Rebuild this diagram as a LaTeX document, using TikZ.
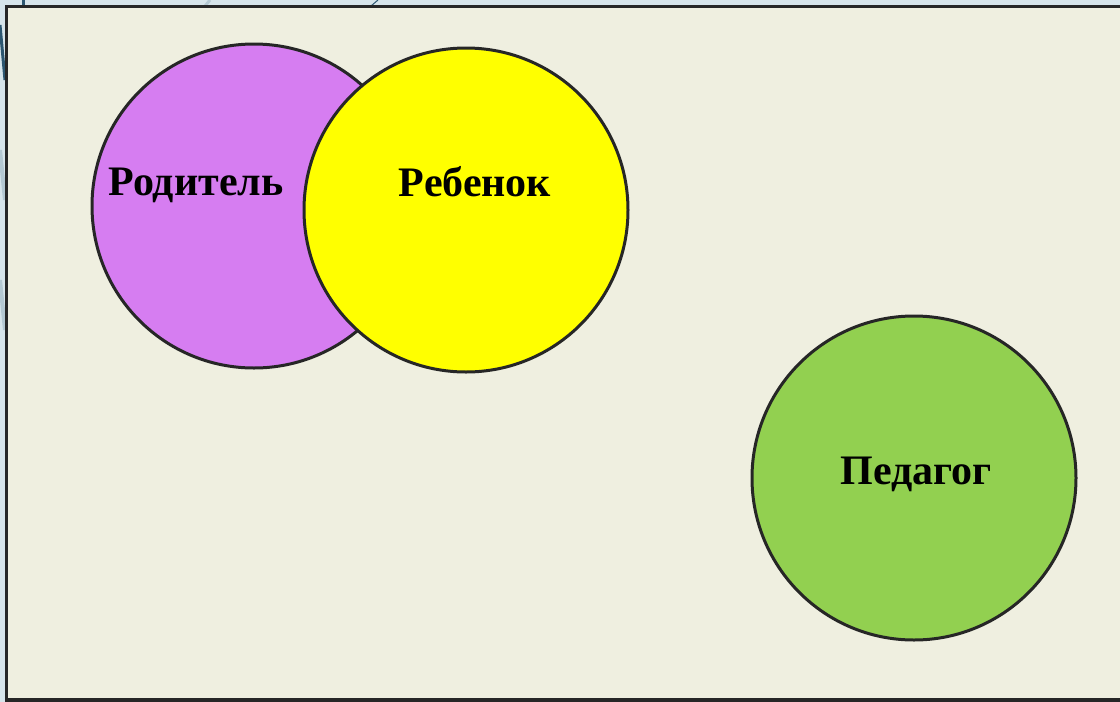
\documentclass[tikz,border=0pt]{standalone}
\usepackage{fontspec}
\setmainfont{Liberation Serif}
\begin{document}
\begin{tikzpicture}[x=1pt,y=-1pt,
  circ/.style={circle,draw=black!85,line width=3pt,minimum size=324pt,inner sep=0pt},
  lbl/.style={font=\bfseries\fontsize{42}{46}\selectfont,inner sep=0pt}]
\definecolor{slidebg}{HTML}{D6E4EA}
\definecolor{panel}{HTML}{EFEFE0}
\definecolor{deco}{HTML}{2C5670}
\definecolor{decolight}{HTML}{B4C8D2}
\definecolor{purplefill}{RGB}{214,125,241}
\definecolor{yellowfill}{RGB}{255,255,0}
\definecolor{greenfill}{RGB}{146,208,80}
\useasboundingbox (0,0) rectangle (1120,702);
\fill[slidebg] (0,0) rectangle (1120,702);
% decorative strokes of the slide background
\draw[deco,line width=3pt] (23,0) -- (23,6);
\draw[deco,line width=3pt] (0,25) -- (5,80);
\draw[decolight,line width=4pt] (0,150) -- (5,200);
\draw[decolight,line width=4pt] (0,280) -- (5,330);
\draw[decolight,line width=3pt] (210,0) -- (205,6);
\draw[deco,line width=1pt] (378,0) -- (371,6);
% panel
\draw[fill=panel,draw=black!85,line width=3.5pt] (6.5,6.5) rectangle (1130,700);
% circles
\node[circ,fill=purplefill] (par) at (254,206) {};
\node[circ,fill=yellowfill] (kid) at (466,210) {};
\node[circ,fill=greenfill] (ped) at (914,478) {};
% labels
\node[lbl] (tpar) at (196,185) {Родитель};
\node[lbl] (tkid) at (475,182) {Ребенок};
\node[lbl] (tped) at (916,474) {Педагог};
\end{tikzpicture}
\end{document}
